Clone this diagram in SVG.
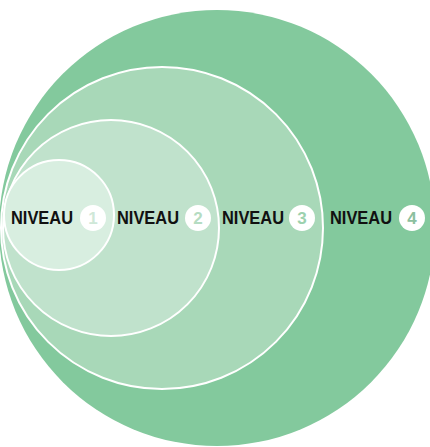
<svg xmlns="http://www.w3.org/2000/svg" width="430" height="447" viewBox="0 0 430 447">
  <style>
    .ring { stroke: #ffffff; stroke-width: 2; }
    .label { font-family: "Liberation Sans", Arial, sans-serif; font-weight: bold; font-size: 17.5px; fill: #111111; }
    .badge { fill: #ffffff; }
    .num { font-family: "Liberation Sans", Arial, sans-serif; font-weight: bold; font-size: 17px; text-anchor: middle; }
  </style>

  <!-- Level 4 (outermost) -->
  <g id="niveau4">
    <circle cx="217" cy="228" r="218" fill="#83c99d"/>
  </g>

  <!-- Level 3 -->
  <g id="niveau3">
    <circle class="ring" cx="162" cy="228" r="161" fill="#a8d8b8"/>
  </g>

  <!-- Level 2 -->
  <g id="niveau2">
    <circle class="ring" cx="111" cy="228" r="108" fill="#c0e2cc"/>
  </g>

  <!-- Level 1 (innermost) -->
  <g id="niveau1">
    <circle class="ring" cx="59" cy="215" r="55" fill="#d8eee0"/>
  </g>

  <!-- Labels -->
  <g id="label1">
    <text class="label" x="11" y="224" textLength="62" lengthAdjust="spacingAndGlyphs">NIVEAU</text>
    <circle class="badge" cx="93" cy="218" r="13"/>
    <text class="num" x="93" y="224" fill="#cfe8d8">1</text>
  </g>
  <g id="label2">
    <text class="label" x="117" y="224" textLength="62" lengthAdjust="spacingAndGlyphs">NIVEAU</text>
    <circle class="badge" cx="198" cy="218" r="13"/>
    <text class="num" x="198" y="224" fill="#b5dcc2">2</text>
  </g>
  <g id="label3">
    <text class="label" x="222" y="224" textLength="62" lengthAdjust="spacingAndGlyphs">NIVEAU</text>
    <circle class="badge" cx="302" cy="218" r="13"/>
    <text class="num" x="302" y="224" fill="#9cd1ae">3</text>
  </g>
  <g id="label4">
    <text class="label" x="330" y="224" textLength="62" lengthAdjust="spacingAndGlyphs">NIVEAU</text>
    <circle class="badge" cx="412" cy="218" r="13"/>
    <text class="num" x="412" y="224" fill="#8cc09f">4</text>
  </g>
</svg>
